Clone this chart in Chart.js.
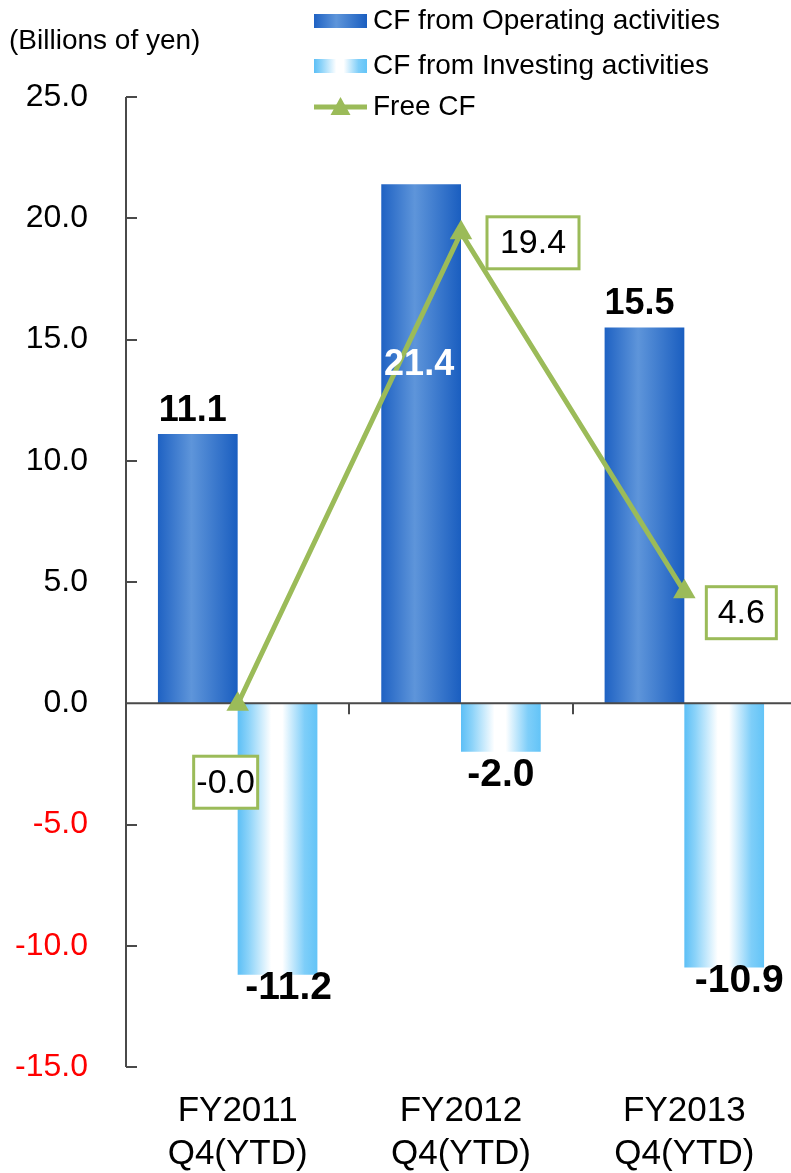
<!DOCTYPE html>
<html>
<head>
<meta charset="utf-8">
<script src="https://cdn.jsdelivr.net/npm/chart.js@4.4.1/dist/chart.umd.min.js"></script>
<style>
  html, body { margin: 0; padding: 0; overflow: hidden; background: #ffffff; }
  #wrap { position: relative; width: 809px; height: 1173px; }
</style>
</head>
<body>
<div id="wrap"><canvas id="c" width="809" height="1173"></canvas></div>
<script>
// ---- data ----
const categories = [['FY2011', 'Q4(YTD)'], ['FY2012', 'Q4(YTD)'], ['FY2013', 'Q4(YTD)']];
const operatingCF = [11.1, 21.4, 15.5];
const investingCF = [-11.2, -2.0, -10.9];
const freeCF = [-0.04, 19.4, 4.6];
const yTickValues = [-15, -10, -5, 0, 5, 10, 15, 20, 25];
const seriesNames = ['CF from Operating activities', 'CF from Investing activities', 'Free CF'];
const unitLabel = '(Billions of yen)';

// ---- label placement (pixel offsets / box widths, kept apart from the values) ----
const opLabelMode = ['above', 'inside', 'above'];
const opInsideOffset = 181;
const invLabelShift = [[11, -6], [0, 4], [15, -6]];
const fcfBoxOffsets = [[-12, 78], [72, 10], [57, 21]];
const fcfBoxWidths = [64, 92, 70];

const FONT = "'Liberation Sans', Arial, sans-serif";
const GREEN = '#9BBB59';
const CAT_PCT = 0.714;

function barSpan(chart, datasetIndex, dataIndex) {
  const xs = chart.scales.x;
  const ca = chart.chartArea;
  const catW = (ca.right - ca.left) / categories.length;
  const c = xs.getPixelForValue(dataIndex);
  const w = catW * CAT_PCT / 2;
  return datasetIndex === 0 ? [c - w, c] : [c, c + w];
}

function opGradient(ctx, x0, x1) {
  const g = ctx.createLinearGradient(x0, 0, x1, 0);
  g.addColorStop(0, '#1F62C3');
  g.addColorStop(0.42, '#5E95DA');
  g.addColorStop(1, '#1A5EC0');
  return g;
}
function invGradient(ctx, x0, x1) {
  const g = ctx.createLinearGradient(x0, 0, x1, 0);
  g.addColorStop(0, '#5CBFF6');
  g.addColorStop(0.14, '#8CD3F9');
  g.addColorStop(0.42, '#FFFFFF');
  g.addColorStop(0.56, '#FFFFFF');
  g.addColorStop(0.84, '#7ECEF9');
  g.addColorStop(1, '#63C4F7');
  return g;
}

function barFill(maker, fallback) {
  return (c) => {
    const chart = c.chart;
    if (!chart.chartArea || c.dataIndex === undefined) return fallback;
    const [x0, x1] = barSpan(chart, c.datasetIndex, c.dataIndex);
    return maker(chart.ctx, x0, x1);
  };
}

const decorations = {
  id: 'decorations',
  beforeDatasetDraw(chart, args) {
    if (args.meta.type !== 'line') return;
    const ctx = chart.ctx;
    const ys = chart.scales.y;
    const ca = chart.chartArea;
    const catW = (ca.right - ca.left) / categories.length;
    ctx.save();
    ctx.strokeStyle = '#4a4a4a';
    ctx.lineWidth = 2;
    // vertical axis with inward ticks
    const yTop = ys.getPixelForValue(yTickValues[yTickValues.length - 1]);
    const yBot = ys.getPixelForValue(yTickValues[0]);
    ctx.beginPath();
    ctx.moveTo(ca.left, yTop);
    ctx.lineTo(ca.left, yBot);
    yTickValues.forEach(v => {
      if (v === 0) return;
      const py = Math.round(ys.getPixelForValue(v));
      ctx.moveTo(ca.left, py);
      ctx.lineTo(ca.left + 11, py);
    });
    ctx.stroke();
    // zero line with category separators
    const y0 = ys.getPixelForValue(0);
    ctx.beginPath();
    ctx.moveTo(ca.left, y0);
    ctx.lineTo(ca.right, y0);
    for (let i = 1; i < categories.length; i++) {
      const px = Math.round(ca.left + i * catW);
      ctx.moveTo(px, y0);
      ctx.lineTo(px, y0 + 11);
    }
    ctx.stroke();
    ctx.restore();
  },
  afterDraw(chart) {
    const ctx = chart.ctx;
    ctx.save();
    // bar value labels
    ctx.font = 'bold 36px ' + FONT;
    ctx.textAlign = 'center';
    const opMeta = chart.getDatasetMeta(0);
    opMeta.data.forEach((el, i) => {
      const txt = operatingCF[i].toFixed(1);
      if (opLabelMode[i] === 'inside') {
        ctx.fillStyle = '#ffffff';
        ctx.textBaseline = 'middle';
        ctx.fillText(txt, el.x - 2, el.y + opInsideOffset);
      } else {
        ctx.fillStyle = '#000000';
        ctx.textBaseline = 'alphabetic';
        ctx.fillText(txt, el.x - 5, el.y - 13);
      }
    });
    ctx.font = 'bold 39px ' + FONT;
    const invMeta = chart.getDatasetMeta(1);
    invMeta.data.forEach((el, i) => {
      ctx.fillStyle = '#000000';
      ctx.textBaseline = 'top';
      ctx.fillText(investingCF[i].toFixed(1), el.x + invLabelShift[i][0], el.y + invLabelShift[i][1]);
    });
    // free cash flow boxed labels
    const fMeta = chart.getDatasetMeta(2);
    ctx.font = '34px ' + FONT;
    fMeta.data.forEach((pt, i) => {
      const txt = freeCF[i].toFixed(1);
      const w = fcfBoxWidths[i];
      const h = 52;
      const cx = pt.x + fcfBoxOffsets[i][0];
      const cy = pt.y + fcfBoxOffsets[i][1];
      ctx.fillStyle = '#ffffff';
      ctx.fillRect(cx - w / 2, cy - h / 2, w, h);
      ctx.strokeStyle = GREEN;
      ctx.lineWidth = 3;
      ctx.strokeRect(cx - w / 2, cy - h / 2, w, h);
      ctx.fillStyle = '#000000';
      ctx.textBaseline = 'middle';
      ctx.textAlign = 'center';
      ctx.fillText(txt, cx, cy + 1);
    });
    // unit caption
    ctx.font = '28px ' + FONT;
    ctx.textAlign = 'left';
    ctx.textBaseline = 'middle';
    ctx.fillStyle = '#000000';
    ctx.fillText(unitLabel, 9, 41);
    // legend
    const lx0 = 314, lx1 = 367, tx = 373;
    const rows = [21, 66, 107];
    ctx.fillStyle = opGradient(ctx, lx0, lx1);
    ctx.fillRect(lx0, rows[0] - 7, lx1 - lx0, 14);
    ctx.fillStyle = invGradient(ctx, lx0, lx1);
    ctx.fillRect(lx0, rows[1] - 7, lx1 - lx0, 14);
    ctx.strokeStyle = GREEN;
    ctx.lineWidth = 5;
    ctx.beginPath();
    ctx.moveTo(lx0, rows[2]);
    ctx.lineTo(lx1, rows[2]);
    ctx.stroke();
    ctx.fillStyle = GREEN;
    const tcx = (lx0 + lx1) / 2;
    ctx.beginPath();
    ctx.moveTo(tcx, rows[2] - 10);
    ctx.lineTo(tcx + 10, rows[2] + 8);
    ctx.lineTo(tcx - 10, rows[2] + 8);
    ctx.closePath();
    ctx.fill();
    ctx.fillStyle = '#000000';
    ctx.font = '28px ' + FONT;
    seriesNames.forEach((n, i) => ctx.fillText(n, tx, rows[i]));
    ctx.restore();
  }
};

new Chart(document.getElementById('c'), {
  type: 'bar',
  data: {
    labels: categories,
    datasets: [
      {
        label: seriesNames[0],
        data: operatingCF,
        backgroundColor: barFill(opGradient, '#3B7BD0'),
        borderWidth: 0,
        categoryPercentage: CAT_PCT,
        barPercentage: 1,
        order: 1
      },
      {
        label: seriesNames[1],
        data: investingCF,
        backgroundColor: barFill(invGradient, '#9AD8FA'),
        borderWidth: 0,
        categoryPercentage: CAT_PCT,
        barPercentage: 1,
        order: 1
      },
      {
        type: 'line',
        label: seriesNames[2],
        data: freeCF,
        borderColor: GREEN,
        borderWidth: 5,
        backgroundColor: GREEN,
        pointStyle: 'triangle',
        pointRadius: 13,
        pointBackgroundColor: GREEN,
        pointBorderWidth: 0,
        tension: 0,
        order: 0
      }
    ]
  },
  options: {
    responsive: false,
    animation: false,
    devicePixelRatio: 1,
    layout: { padding: { top: 97, left: 0, right: 2, bottom: 0 } },
    plugins: { legend: { display: false }, tooltip: { enabled: false } },
    scales: {
      x: {
        grid: { display: false, drawTicks: false },
        border: { display: false },
        ticks: {
          color: '#000000',
          font: { family: FONT, size: 35, lineHeight: 1.25 },
          padding: 22,
          maxRotation: 0,
          autoSkip: false
        },
        afterFit(s) { s.height = 106; }
      },
      y: {
        min: -15,
        max: 25,
        afterBuildTicks(s) { s.ticks = yTickValues.map(v => ({ value: v })); },
        grid: { display: false, drawTicks: false },
        border: { display: false },
        ticks: {
          padding: 38,
          font: { family: FONT, size: 32 },
          color: (c) => (c.tick && c.tick.value < 0 ? '#FF0000' : '#000000'),
          callback: (v) => Number(v).toFixed(1)
        },
        afterFit(s) { s.width = 126; }
      }
    }
  },
  plugins: [decorations]
});
</script>
</body>
</html>
